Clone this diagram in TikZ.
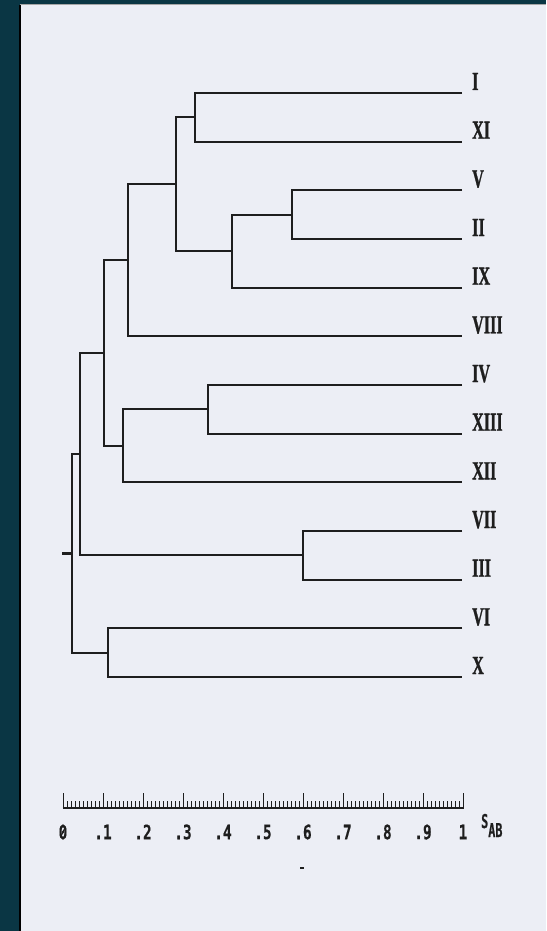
\documentclass[tikz,border=0pt]{standalone}
\usepackage{fontspec}
\setmainfont{Liberation Serif}
\newfontfamily\lblfont{Liberation Serif}[BoldFeatures={FakeBold=1.5}]
\newfontfamily\axfont{DejaVu Sans Mono}[BoldFeatures={FakeBold=0.5}]
\definecolor{bordercol}{HTML}{0A3644}
\definecolor{panelcol}{HTML}{ECEEF5}
\definecolor{inkcol}{HTML}{1E1E1E}
\tikzset{
  branch/.style={draw=inkcol, line width=2.2pt, line join=miter},
  leaflbl/.style={anchor=base west, inner sep=0pt, text=inkcol, font=\lblfont\fontsize{26}{26}\selectfont\bfseries},
  axlbl/.style={anchor=center, inner sep=0pt, text=inkcol, font=\axfont\fontsize{20}{20}\selectfont\bfseries},
  ruler/.style={draw=inkcol, line width=1.6pt},
  tickmark/.style={draw=inkcol, line width=1pt}
}
\newcommand{\cond}[1]{\scalebox{0.62}[1]{#1}}
\newcommand{\axcond}[1]{\scalebox{0.72}[1]{#1}}
\begin{document}
\begin{tikzpicture}[x=1pt,y=-1pt]
\fill[bordercol] (0,0) rectangle (546,931);
\useasboundingbox (0,0) rectangle (546,931);
\fill[panelcol] (20,5) rectangle (546,931);
\draw[black, line width=1.6pt] (20,5) -- (20,931);
\draw[gray!70, line width=1pt] (20,5) -- (546,5);

% leaf ends
\foreach \nm/\yy in {I/93, XI/141.7, V/190.3, II/239, IX/287.7, VIII/336.3, IV/385, XIII/433.7, XII/482.3, VII/531, III/579.7, VI/628.3, X/677}{
  \coordinate (l\nm) at (462,\yy);
  \node[leaflbl] (t\nm) at (472,\yy-3) {\cond{\nm}};
}

% internal nodes
\coordinate (a) at (195,117.3);
\coordinate (b) at (291.7,214.7);
\coordinate (c) at (231.7,251.2);
\coordinate (d) at (175.7,184.3);
\coordinate (e) at (128.3,260.3);
\coordinate (f) at (207.7,409.3);
\coordinate (g) at (123.3,445.8);
\coordinate (h) at (104,353);
\coordinate (i) at (303,555.3);
\coordinate (j) at (80,454.2);
\coordinate (k) at (107.7,652.7);
\coordinate (r) at (71.7,553.4);
\coordinate (root) at (62,553.4);

\draw[branch] (lI) -| (a) |- (lXI);
\draw[branch] (lV) -| (b) |- (lII);
\draw[branch] (b) -| (c) |- (lIX);
\draw[branch] (a) -| (d) |- (c);
\draw[branch] (d) -| (e) |- (lVIII);
\draw[branch] (lIV) -| (f) |- (lXIII);
\draw[branch] (f) -| (g) |- (lXII);
\draw[branch] (e) -| (h) |- (g);
\draw[branch] (lVII) -| (i) |- (lIII);
\draw[branch] (h) -| (j) |- (i);
\draw[branch] (lVI) -| (k) |- (lX);
\draw[branch] (j) -| (r) |- (k);
\draw[branch] (root) -- (r);

% ruler
\draw[ruler] (62.5,808) -- (463.5,808);
\foreach \n in {0,...,100}{
  \pgfmathsetmacro{\xx}{63+4*\n}
  \pgfmathtruncatemacro{\md}{mod(\n,10)}
  \ifnum\md=0
    \draw[tickmark] (\xx,808) -- (\xx,793);
  \else
    \draw[tickmark] (\xx,808) -- (\xx,801);
  \fi
}
\foreach \n/\lb in {0/0, 1/.1, 2/.2, 3/.3, 4/.4, 5/.5, 6/.6, 7/.7, 8/.8, 9/.9, 10/1}{
  \node[axlbl] (ax\n) at (63+40*\n,832) {\axcond{\lb}};
}
\draw[inkcol, line width=1.2pt] ([xshift=-2.5pt,yshift=-5pt]ax0.center) -- ([xshift=2.5pt,yshift=5pt]ax0.center);
\node[anchor=base west, inner sep=0pt, text=inkcol, font=\axfont\fontsize{19}{19}\selectfont\bfseries] (sab) at (481,828) {\scalebox{0.62}[1]{S\raisebox{-9pt}{AB}}};
\draw[inkcol, line width=1.8pt] (300,868) -- (304,868);
\end{tikzpicture}
\end{document}
